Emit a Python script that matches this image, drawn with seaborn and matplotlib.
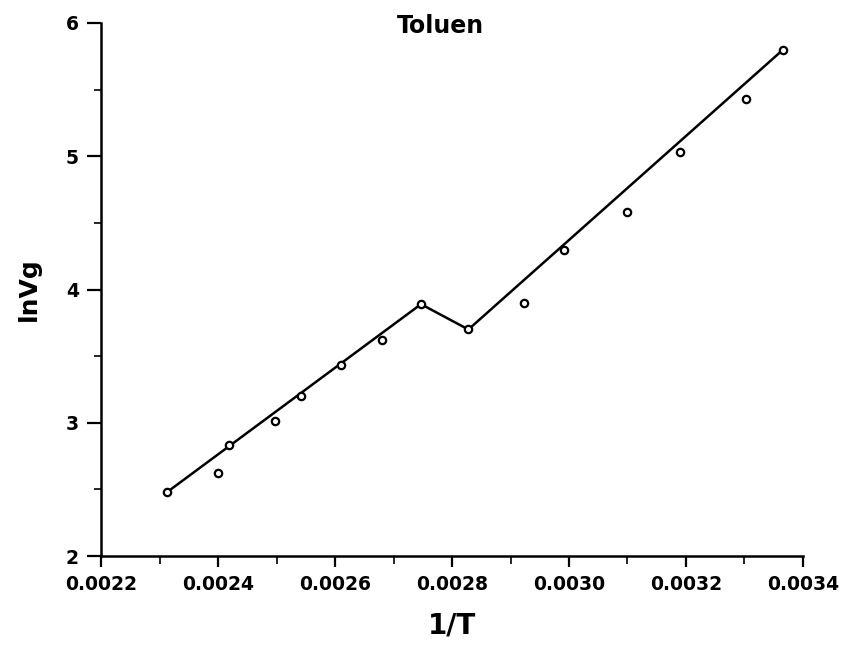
import matplotlib
matplotlib.use("Agg")
import matplotlib.pyplot as plt
import seaborn as sns
import pandas as pd
from matplotlib.ticker import MultipleLocator, FormatStrFormatter

# Data
inv_T = [0.002313, 0.002400, 0.002419, 0.002497, 0.002542, 0.002610, 0.002680,
         0.002747, 0.002828, 0.002923, 0.002992, 0.003100, 0.003190, 0.003303, 0.003366]
ln_Vg = [2.48, 2.62, 2.83, 3.01, 3.20, 3.43, 3.62,
         3.89, 3.70, 3.90, 4.30, 4.58, 5.03, 5.43, 5.80]

fit_x = [0.002313, 0.002747, 0.002828, 0.003366]
fit_y = [2.48, 3.89, 3.70, 5.80]

title = "Toluen"
xlabel = "1/T"
ylabel = "lnVg"

sns.set_style("ticks")
plt.rcParams['font.family'] = ['DejaVu Sans']

fig = plt.figure(figsize=(8.44, 6.55), dpi=100)
ax = fig.add_axes([0.1197, 0.1511, 0.8317, 0.8138])

pts = pd.DataFrame({"x": inv_T, "y": ln_Vg})
fit = pd.DataFrame({"x": fit_x, "y": fit_y})

sns.lineplot(data=fit, x="x", y="y", ax=ax, color="black", linewidth=1.8, sort=False)
sns.scatterplot(data=pts, x="x", y="y", ax=ax, marker="o", s=28,
                facecolor="white", edgecolor="black", linewidth=1.6, zorder=3)

ax.set_xlim(0.0022, 0.0034)
ax.set_ylim(2, 6)
ax.xaxis.set_major_locator(MultipleLocator(0.0002))
ax.xaxis.set_minor_locator(MultipleLocator(0.0001))
ax.yaxis.set_major_locator(MultipleLocator(1))
ax.yaxis.set_minor_locator(MultipleLocator(0.5))
ax.xaxis.set_major_formatter(FormatStrFormatter("%.4f"))
ax.yaxis.set_major_formatter(FormatStrFormatter("%d"))

for s in ["top", "right"]:
    ax.spines[s].set_visible(False)
for s in ["left", "bottom"]:
    ax.spines[s].set_linewidth(1.8)
    ax.spines[s].set_color("black")

ax.tick_params(axis="x", which="major", length=8, width=1.6, direction="out", pad=6,
               labelsize=13.5, colors="black")
ax.tick_params(axis="x", which="minor", length=6, width=1.4, direction="out")
ax.tick_params(axis="y", which="major", length=10, width=1.6, direction="out", pad=6,
               labelsize=13.5, colors="black")
ax.tick_params(axis="y", which="minor", length=5, width=1.4, direction="out")
for lab in ax.get_xticklabels() + ax.get_yticklabels():
    lab.set_fontweight("bold")

ax.set_xlabel(xlabel, fontsize=20, labelpad=12, color="black", fontweight="bold")
ax.set_ylabel(ylabel, fontsize=18, labelpad=18, color="black", fontweight="bold")
ax.set_title(title, fontsize=17, x=0.483, y=0.982, pad=0, color="black", fontweight="bold")

fig.savefig("out.png", dpi=100)
